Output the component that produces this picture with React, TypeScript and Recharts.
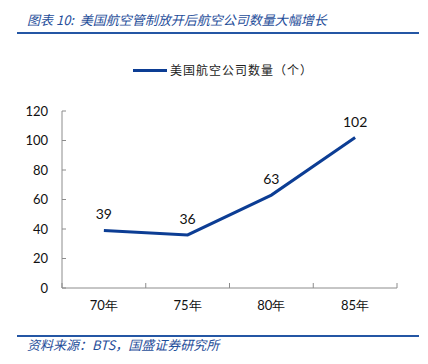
import React from 'react';
import { LineChart, Line, XAxis, YAxis, LabelList } from 'recharts';

// 美国航空公司数量（个）
const years = ['70年', '75年', '80年', '85年'];
const airlineCounts = [39, 36, 63, 102];
const yTicks = [0, 20, 40, 60, 80, 100, 120];

const titleText = '图表 10:  美国航空管制放开后航空公司数量大幅增长';
const legendText = '美国航空公司数量（个）';
const sourceText = '资料来源：BTS，国盛证券研究所';

const data = years.map((year, i) => ({ year, value: airlineCounts[i] }));

const BLUE = '#0c3d94';
const TEXT_BLUE = '#1f4e9a';
const AXIS = '#8c8c8c';
const NUM_FONT = 'Lato, "Noto Sans", sans-serif';
const CJK_FONT = '"Noto Sans CJK SC", sans-serif';
const LABEL_GAP = 13;

// category label + Excel style tick marks on the category boundaries (pointing up)
const BoundaryTick = (props: any) => {
    const { x, y, payload, index, visibleTicksCount } = props;
    const axisY = y - LABEL_GAP;
    const half = payload?.offset ?? 0;
    return (
        <g>
            <line x1={x - half} x2={x - half} y1={axisY} y2={axisY - 5} stroke={AXIS} />
            {index === visibleTicksCount - 1 && (
                <line x1={x + half} x2={x + half} y1={axisY} y2={axisY - 5} stroke={AXIS} />
            )}
            <text x={x} y={y} dy="0.71em" textAnchor="middle" fill="#111" fontSize={13} fontFamily={NUM_FONT}>
                {payload.value}
            </text>
        </g>
    );
};

export default function App() {
    return (
        <div style={{ position: 'absolute', left: 0, top: 0, width: 428, height: 364, background: '#fff', overflow: 'hidden' }}>
            <div style={{ position: 'absolute', left: 27, top: 10, fontFamily: CJK_FONT, fontStyle: 'italic', fontSize: 13, color: TEXT_BLUE, whiteSpace: 'pre', lineHeight: '19px' }}>
                {titleText}
            </div>
            <div style={{ position: 'absolute', left: 17, top: 32, width: 402, height: 2, background: '#2456a4' }} />

            {/* legend */}
            <div style={{ position: 'absolute', left: 133, top: 69, width: 34, height: 3, background: BLUE }} />
            <div style={{ position: 'absolute', left: 170, top: 61, fontFamily: CJK_FONT, fontSize: 12, letterSpacing: 1, color: '#222', lineHeight: '18px', whiteSpace: 'nowrap' }}>
                {legendText}
            </div>

            <div style={{ position: 'absolute', left: 0, top: 0 }}>
                <LineChart width={428} height={364} data={data} margin={{ top: 111, right: 31, left: 22, bottom: 46 }}>
                    <XAxis
                        dataKey="year"
                        type="category"
                        scale="band"
                        height={30}
                        stroke={AXIS}
                        tickLine={false}
                        tickSize={0}
                        tickMargin={LABEL_GAP}
                        interval={0}
                        tick={<BoundaryTick />}
                    />
                    <YAxis
                        width={40}
                        domain={[0, 120]}
                        ticks={yTicks}
                        interval={0}
                        tickSize={-4}
                        tickMargin={18}
                        stroke={AXIS}
                        tick={{ fill: '#111', fontSize: 13, fontFamily: NUM_FONT }}
                    />
                    <Line
                        type="linear"
                        dataKey="value"
                        stroke={BLUE}
                        strokeWidth={3}
                        dot={false}
                        isAnimationActive={false}
                    >
                        <LabelList dataKey="value" position="top" offset={11} fill="#111" fontSize={14} fontFamily={NUM_FONT} />
                    </Line>
                </LineChart>
            </div>

            <div style={{ position: 'absolute', left: 17, top: 335, width: 402, height: 2, background: '#2456a4' }} />
            <div style={{ position: 'absolute', left: 27, top: 336, fontFamily: CJK_FONT, fontStyle: 'italic', fontSize: 13, color: TEXT_BLUE, whiteSpace: 'nowrap', lineHeight: '18px' }}>
                {sourceText}
            </div>
        </div>
    );
}
